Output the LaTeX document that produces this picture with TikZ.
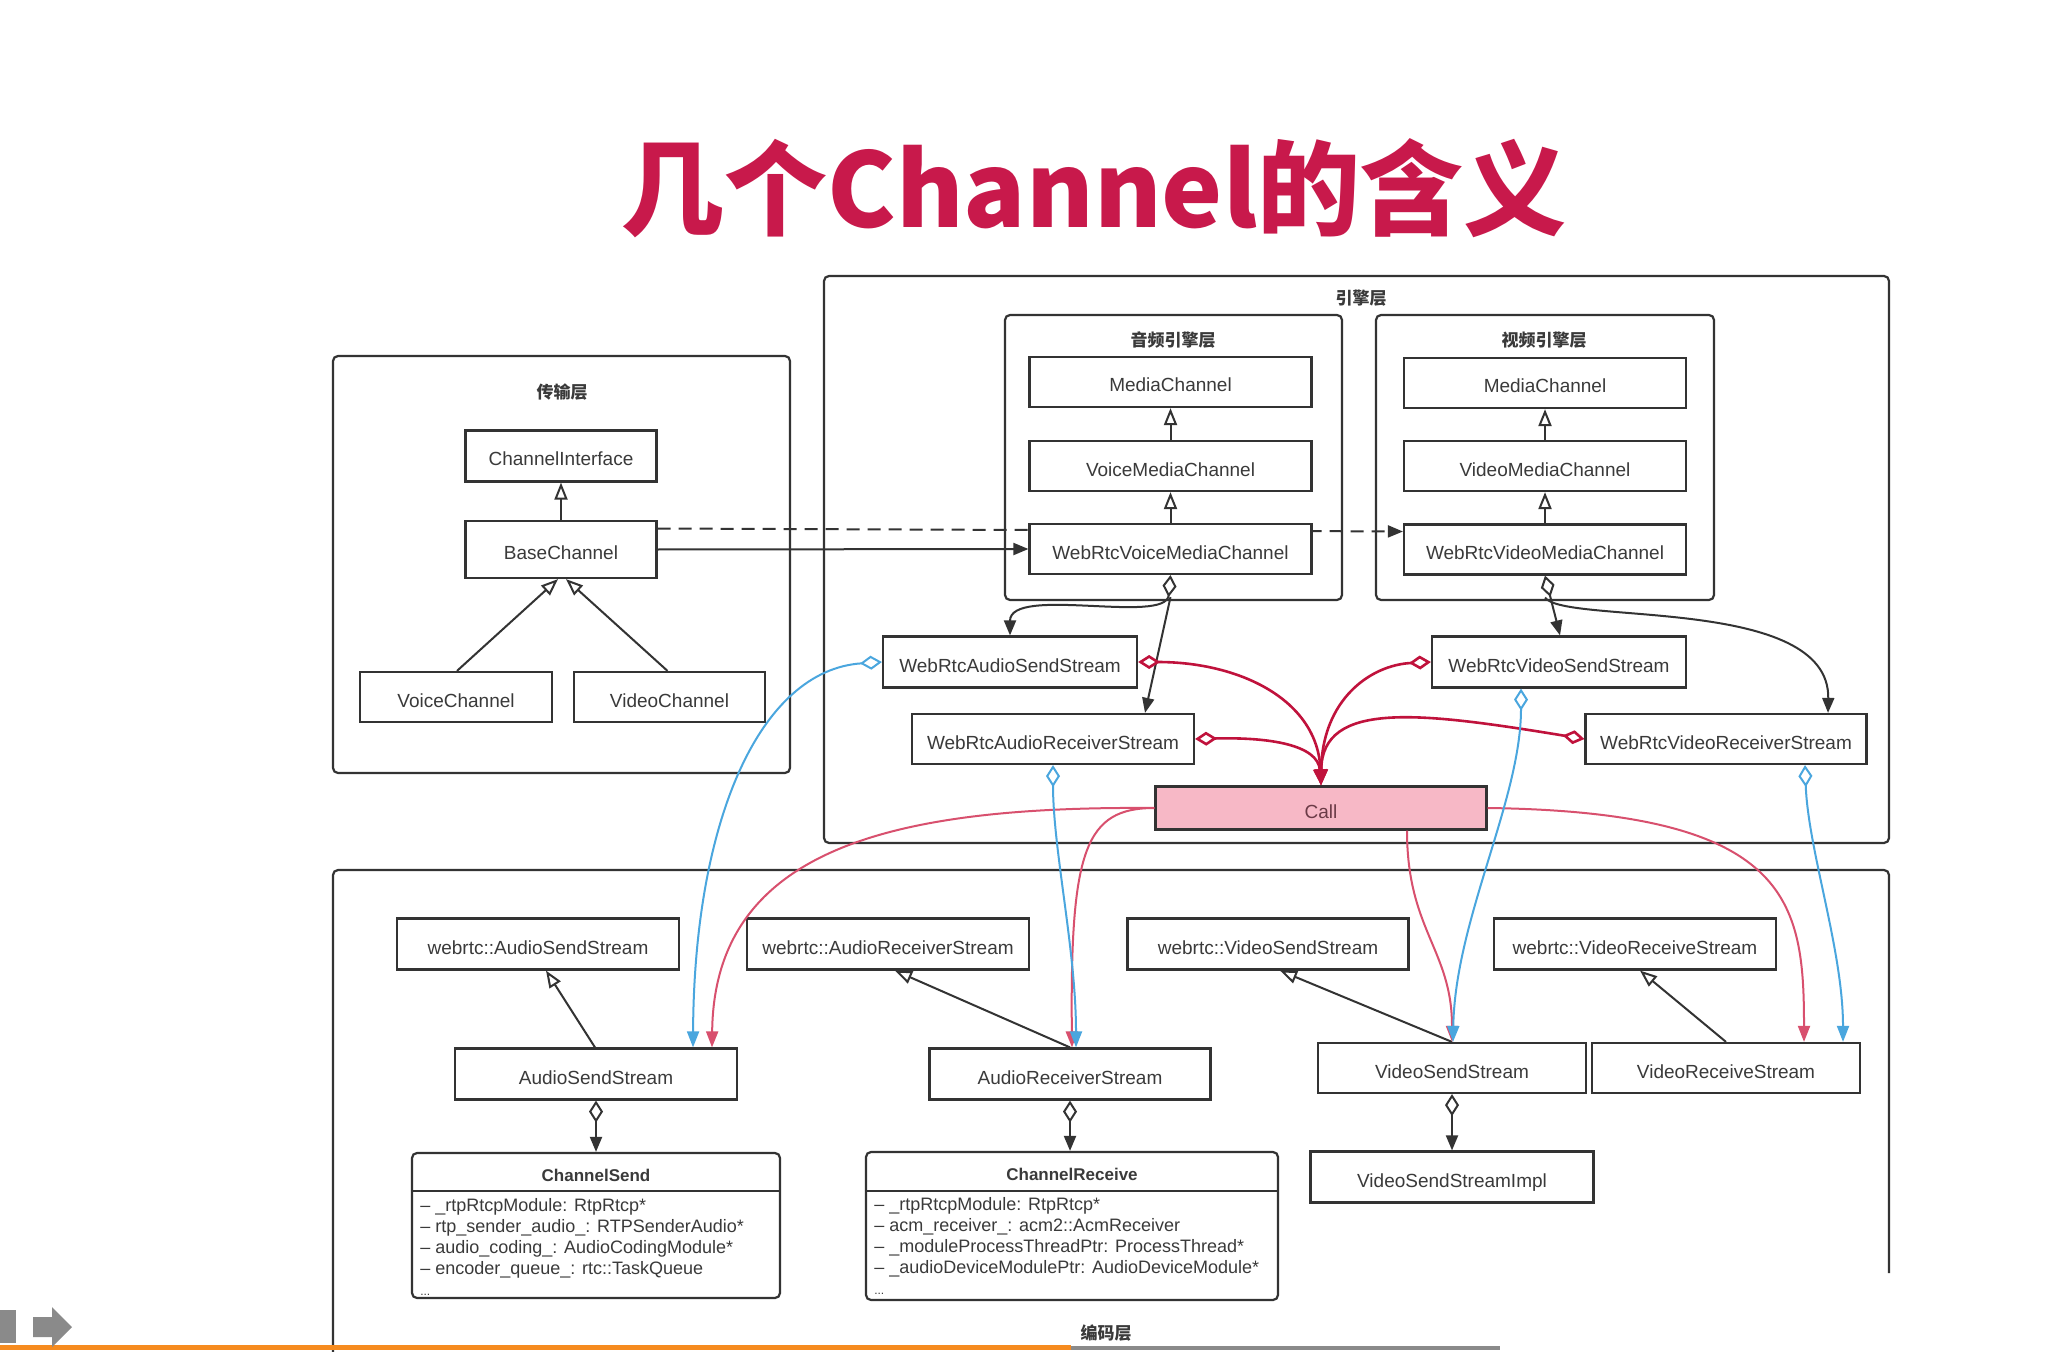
\documentclass[tikz,border=0pt]{standalone}
\usepackage{fontspec}
\setmainfont{Liberation Sans}
\newfontfamily\cjk{Noto Sans CJK SC}
\usetikzlibrary{arrows.meta,calc}
\pgfdeclarelayer{bg}
\pgfsetlayers{bg,main}
\definecolor{linec}{HTML}{333333}
\definecolor{textc}{HTML}{3A3A3A}
\definecolor{crim}{HTML}{C0123C}
\definecolor{pinkc}{HTML}{D8506E}
\definecolor{bluec}{HTML}{4AA6DE}
\definecolor{callfill}{HTML}{F7B8C6}
\definecolor{calltext}{HTML}{6B3B47}
\definecolor{titlec}{HTML}{C8194B}
\definecolor{barorange}{HTML}{F68B1F}
\definecolor{bargray}{HTML}{8A8A8A}
\begin{document}
\begin{tikzpicture}[x=0.5pt,y=-0.5pt,
  cls/.style={draw=linec, line width=1.1pt, fill=white, text=textc, inner sep=0pt,
    text height=10pt, text depth=0pt, font=\fontsize{9.5}{11}\selectfont},
  layerbox/.style={draw=linec, line width=1.1pt, rounded corners=2.5pt},
  ltitle/.style={text=textc, inner sep=0pt, font=\cjk\bfseries\fontsize{8.5}{10}\selectfont},
  attr/.style={text=textc, inner sep=0pt, align=left, anchor=north west,
    font=\fontsize{9}{10.5}\selectfont},
  gen/.style={draw=linec, line width=1pt, -{Triangle[length=8.5pt,width=6.5pt,fill=white]}},
  agg/.style={draw=linec, line width=1pt,
    {Diamond[fill=white,length=11pt,width=7pt]}-{Triangle[length=7.5pt,width=6pt]}},
  assoc/.style={draw=linec, line width=1pt, -{Triangle[length=7.5pt,width=6pt]}},
  redagg/.style={draw=crim, line width=1.3pt,
    {Diamond[fill=white,length=11pt,width=7pt]}-{Triangle[length=8pt,width=6.5pt]}},
  blueagg/.style={draw=bluec, line width=1pt,
    {Diamond[fill=white,length=11pt,width=7pt]}-{Triangle[length=8pt,width=6pt]}},
  pinkarr/.style={draw=pinkc, line width=1pt, -{Triangle[length=8pt,width=6pt]}}
]
\useasboundingbox (0,0) rectangle (2048,1352);

% title
\node[anchor=base, inner sep=0pt, text=titlec, font=\cjk\bfseries\fontsize{51.5}{58}\selectfont]
  (title) at (1094,228) {几个Channel的含义};

% layer frames
\draw[layerbox] (333,356) rectangle (790,773);
\node[ltitle] (tlt) at (562,392) {传输层};
\draw[layerbox] (824,276) rectangle (1889,843);
\node[ltitle] (elt) at (1361,298) {引擎层};
\draw[layerbox] (1005,315) rectangle (1342,600);
\node[ltitle] (alt) at (1173,340) {音频引擎层};
\draw[layerbox] (1376,315) rectangle (1714,600);
\node[ltitle] (vlt) at (1544,340) {视频引擎层};
\draw[layerbox] (333,1352) -- (333,870) -- (1889,870) -- (1889,1273);
\node[ltitle] (clt) at (1106,1333) {编码层};

% transport layer
\node[cls, minimum width=95.5pt, minimum height=25.5pt] (ci) at (561,456) {ChannelInterface};
\node[cls, minimum width=95.5pt, minimum height=28.5pt] (bc) at (561,549.5) {BaseChannel};
\node[cls, minimum width=96pt, minimum height=25pt] (vc) at (456,697) {VoiceChannel};
\node[cls, minimum width=95.5pt, minimum height=25pt] (vdc) at (669.5,697) {VideoChannel};

% engine layer
\node[cls, minimum width=141pt, minimum height=25pt] (amc) at (1170.5,382) {MediaChannel};
\node[cls, minimum width=141pt, minimum height=25pt] (vmc) at (1170.5,466) {VoiceMediaChannel};
\node[cls, minimum width=141pt, minimum height=25pt] (wvmc) at (1170.5,549) {WebRtcVoiceMediaChannel};
\node[cls, minimum width=141pt, minimum height=25pt] (vimc) at (1545,383) {MediaChannel};
\node[cls, minimum width=141pt, minimum height=25pt] (vdmc) at (1545,466) {VideoMediaChannel};
\node[cls, minimum width=141pt, minimum height=25pt] (wvdmc) at (1545,549.5) {WebRtcVideoMediaChannel};

\node[cls, minimum width=127pt, minimum height=25.5pt] (wass) at (1010,662) {WebRtcAudioSendStream};
\node[cls, minimum width=141pt, minimum height=25pt] (wars) at (1053,739) {WebRtcAudioReceiverStream};
\node[cls, minimum width=127pt, minimum height=25.5pt] (wvss) at (1559,662) {WebRtcVideoSendStream};
\node[cls, minimum width=140.5pt, minimum height=25pt] (wvrs) at (1726,739) {WebRtcVideoReceiverStream};
\node[cls, fill=callfill, text=calltext, minimum width=165.5pt, minimum height=21.5pt] (call) at (1321,808) {Call};

% coding layer
\node[cls, minimum width=141pt, minimum height=25.5pt] (wasend) at (538,944) {webrtc::AudioSendStream};
\node[cls, minimum width=141pt, minimum height=25.5pt] (warecv) at (888,944) {webrtc::AudioReceiverStream};
\node[cls, minimum width=140.5pt, minimum height=25.5pt] (wvsend) at (1268,944) {webrtc::VideoSendStream};
\node[cls, minimum width=141pt, minimum height=25.5pt] (wvrecv) at (1635,944) {webrtc::VideoReceiveStream};
\node[cls, minimum width=141pt, minimum height=25.5pt] (ass) at (596,1074) {AudioSendStream};
\node[cls, minimum width=140.5pt, minimum height=25.5pt] (ars) at (1070,1074) {AudioReceiverStream};
\node[cls, minimum width=134pt, minimum height=25pt] (vss) at (1452,1068) {VideoSendStream};
\node[cls, minimum width=134pt, minimum height=25pt] (vrs) at (1726,1068) {VideoReceiveStream};
\node[cls, minimum width=141.5pt, minimum height=25.5pt] (vssi) at (1452,1177) {VideoSendStreamImpl};

% class boxes with attributes
\node[cls, rounded corners=2.5pt, minimum width=184pt, minimum height=72.5pt] (cs) at (596,1225.5) {};
\draw[draw=linec, line width=1.1pt] ($(cs.north west)+(0,39)$) -- ($(cs.north east)+(0,39)$);
\node[text=textc, inner sep=0pt, font=\bfseries\fontsize{8.5}{10}\selectfont] (cst) at ($(cs.north)+(0,24)$) {ChannelSend};
\node[attr] (csa) at ($(cs.north west)+(9,46)$) {– \_rtpRtcpModule: RtpRtcp*\\
– rtp\_sender\_audio\_: RTPSenderAudio*\\
– audio\_coding\_: AudioCodingModule*\\
– encoder\_queue\_: rtc::TaskQueue\\
{\fontsize{6}{7}\selectfont ...}};

\node[cls, rounded corners=2.5pt, minimum width=206pt, minimum height=74pt] (cr) at (1072,1226) {};
\draw[draw=linec, line width=1.1pt] ($(cr.north west)+(0,40)$) -- ($(cr.north east)+(0,40)$);
\node[text=textc, inner sep=0pt, font=\bfseries\fontsize{8.5}{10}\selectfont] (crt) at ($(cr.north)+(0,24)$) {ChannelReceive};
\node[attr] (cra) at ($(cr.north west)+(9,46)$) {– \_rtpRtcpModule: RtpRtcp*\\
– acm\_receiver\_: acm2::AcmReceiver\\
– \_moduleProcessThreadPtr: ProcessThread*\\
– \_audioDeviceModulePtr: AudioDeviceModule*\\
{\fontsize{6}{7}\selectfont ...}};

% white page and dashed dependency behind the boxes
\begin{pgfonlayer}{bg}
\fill[white] (0,0) rectangle (2048,1352);
\draw[assoc, dash pattern=on 6.5pt off 4pt] ($(bc.east)+(0,-21)$) -- ($(wvdmc.west)+(0,-18)$);
\end{pgfonlayer}

% black connectors
\draw[gen] (bc.north) -- (ci.south);
\draw[gen] ($(vc.north)+(1,0)$) -- ($(bc.south)+(-3,0)$);
\draw[gen] ($(vdc.north)+(-2,0)$) -- ($(bc.south)+(5,0)$);
\draw[assoc] (bc.east) -- (wvmc.west);

\draw[gen] (vmc.north) -- (amc.south);
\draw[gen] (wvmc.north) -- (vmc.south);
\draw[gen] (vdmc.north) -- (vimc.south);
\draw[gen] (wvdmc.north) -- (vdmc.south);

\draw[assoc] ($(wvmc.south)+(0,22)$) -- ($(wars.north)+(92,0)$);
\draw[agg] (wvmc.south) .. controls (1166,625) and (1010,585) .. (wass.north);
\draw[assoc] ($(wvdmc.south)+(0,22)$) .. controls (1565,625) and (1830,595) .. ($(wvrs.north)+(102,0)$);
\draw[agg] (wvdmc.south) -- ($(wvss.north)+(1,0)$);

\draw[gen] ($(ass.north)+(-1,0)$) -- ($(wasend.south)+(8,0)$);
\draw[gen] (ars.north) -- ($(warecv.south)+(7,0)$);
\draw[gen] (vss.north) -- ($(wvsend.south)+(12,0)$);
\draw[gen] (vrs.north) -- ($(wvrecv.south)+(5,0)$);

\draw[agg] (ass.south) -- (cs.north);
\draw[agg] (ars.south) -- ($(cr.north)+(-2,0)$);
\draw[agg] (vss.south) -- (vssi.north);

% crimson aggregations into Call
\draw[redagg] (wass.east) .. controls (1240,662) and (1318,700) .. (call.north);
\draw[redagg] (wars.east) .. controls (1270,737) and (1318,745) .. (call.north);
\draw[redagg] (wvss.west) .. controls (1370,665) and (1322,700) .. (call.north);
\draw[redagg] (wvrs.west) .. controls (1420,712) and (1322,700) .. (call.north);

% pink connectors out of Call
\draw[pinkarr] (call.west) .. controls (900,806) and (714,845) .. ($(ass.north)+(116,0)$);
\draw[pinkarr] (call.west) .. controls (1085,808) and (1070,850) .. ($(ars.north)+(2,0)$);
\draw[pinkarr] ($(call.south)+(86,0)$) .. controls (1407,930) and (1452,950) .. (vss.north);
\draw[pinkarr] (call.east) .. controls (1790,812) and (1804,900) .. ($(vrs.north)+(78,0)$);

% blue aggregations
\draw[blueagg] (wass.west) .. controls (760,670) and (694,820) .. ($(ass.north)+(97,0)$);
\draw[blueagg] (wars.south) .. controls (1053,850) and (1076,950) .. ($(ars.north)+(6,0)$);
\draw[blueagg] ($(wvss.south)+(-38,0)$) .. controls (1521,800) and (1455,920) .. ($(vss.north)+(1,0)$);
\draw[blueagg] ($(wvrs.south)+(79,0)$) .. controls (1808,850) and (1843,950) .. ($(vrs.north)+(117,0)$);

% player bar at the bottom
\draw[bargray, line width=2pt] (1071,1348) -- (1500,1348);
\draw[barorange, line width=2.5pt] (0,1347) -- (1071,1347);
\fill[bargray] (0,1310) rectangle (16,1343);
\fill[bargray] (33,1317) -- (52,1317) -- (52,1307) -- (72,1327) -- (52,1347) -- (52,1337) -- (33,1337) -- cycle;
\end{tikzpicture}
\end{document}
